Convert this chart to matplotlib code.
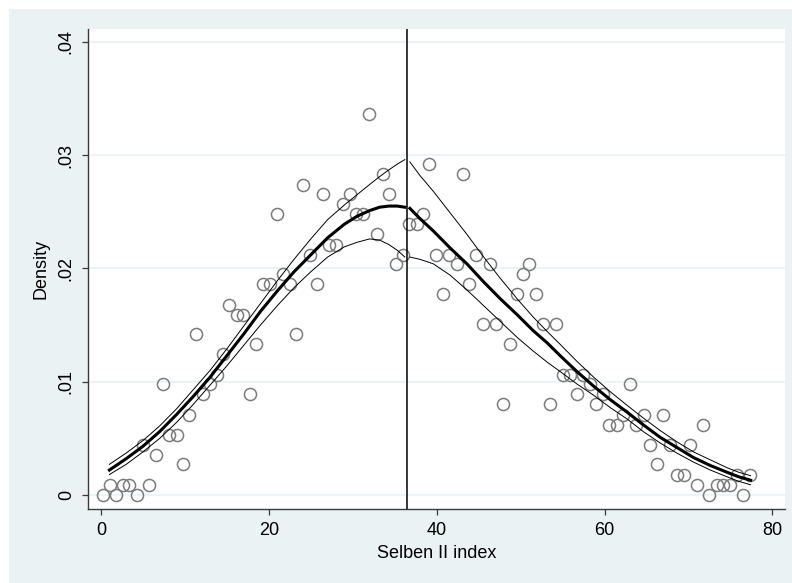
import numpy as np
import matplotlib
matplotlib.use("Agg")
import matplotlib.pyplot as plt
from matplotlib.patches import Rectangle

plt.rcParams['font.family'] = ['Liberation Sans', 'DejaVu Sans']

# ---------------- binned density (circles) ----------------
bin_x = [0.2, 1.07, 1.79, 2.59, 3.37, 4.26, 5.04, 5.72, 6.56, 7.35,
         8.14, 9.02, 9.74, 10.52, 11.32, 12.19, 12.99, 13.79, 14.5, 15.29,
         16.17, 16.96, 17.76, 18.44, 19.27, 20.14, 20.94, 21.73, 22.53, 23.24,
         24.11, 24.91, 25.71, 26.42, 27.21, 28.01, 28.88, 29.68, 30.39, 31.19,
         31.98, 32.86, 33.65, 34.36, 35.16, 36.03,
         36.75, 37.63, 38.41, 39.13, 39.93, 40.73, 41.51, 42.4, 43.11, 43.9,
         44.7, 45.57, 46.36, 47.08, 47.91, 48.75, 49.55, 50.33, 51.05, 51.85,
         52.65, 53.52, 54.23, 55.03, 55.9, 56.7, 57.49, 58.28, 59.0, 59.87,
         60.58, 61.47, 62.25, 63.05, 63.76, 64.64, 65.43, 66.23, 67.02, 67.82,
         68.62, 69.41, 70.2, 71.0, 71.72, 72.5, 73.38, 74.17, 74.97, 75.77,
         76.55, 77.35]
bin_y = [0.0, 0.0009, 0.0, 0.0009, 0.0009, 0.0, 0.0044, 0.0009, 0.0035, 0.0098,
         0.0053, 0.0053, 0.0027, 0.0071, 0.0142, 0.0089, 0.0098, 0.0106, 0.0124, 0.0168,
         0.0159, 0.0159, 0.0089, 0.0133, 0.0186, 0.0186, 0.0248, 0.0195, 0.0186, 0.0142,
         0.0274, 0.0212, 0.0186, 0.0266, 0.0221, 0.0221, 0.0257, 0.0266, 0.0248, 0.0248,
         0.0336, 0.0230, 0.0283, 0.0266, 0.0204, 0.0212,
         0.0239, 0.0239, 0.0248, 0.0292, 0.0212, 0.0177, 0.0212, 0.0204, 0.0283, 0.0186,
         0.0212, 0.0151, 0.0204, 0.0151, 0.0080, 0.0133, 0.0177, 0.0195, 0.0204, 0.0177,
         0.0151, 0.0080, 0.0151, 0.0106, 0.0106, 0.0089, 0.0106, 0.0098, 0.0080, 0.0089,
         0.0062, 0.0062, 0.0071, 0.0098, 0.0062, 0.0071, 0.0044, 0.0027, 0.0071, 0.0044,
         0.0018, 0.0018, 0.0044, 0.0009, 0.0062, 0.0, 0.0009, 0.0009, 0.0009, 0.0018,
         0.0, 0.0018]

cutoff = 36.5

# ---------------- local linear fits with CI ----------------
left_x = [1.0, 3.0, 5.0, 7.0, 9.0, 11.0, 13.0, 15.0, 17.0, 19.0, 21.0,
          23.0, 25.0, 27.0, 29.0, 30.5, 32.0, 33.2, 34.3, 35.3, 36.2]
left_fit = [0.0022, 0.0032, 0.0043, 0.0056, 0.0071, 0.0087, 0.0104, 0.0123, 0.0142,
            0.0162, 0.0180, 0.0197, 0.0212, 0.0227, 0.0239, 0.0246, 0.0251, 0.0254,
            0.0255, 0.0255, 0.0254]
left_hi = [0.0027, 0.0037, 0.0048, 0.0061, 0.0076, 0.0093, 0.0110, 0.0129, 0.0149,
           0.0169, 0.0189, 0.0208, 0.0226, 0.0243, 0.0256, 0.0265, 0.0274, 0.0281,
           0.0287, 0.0292, 0.0296]
left_lo = [0.0018, 0.0027, 0.0038, 0.0050, 0.0064, 0.0080, 0.0097, 0.0114, 0.0132,
           0.0150, 0.0167, 0.0183, 0.0197, 0.0210, 0.0219, 0.0223, 0.0226, 0.0225,
           0.0221, 0.0216, 0.0210]

right_x = [36.8, 38.0, 39.6, 41.6, 43.6, 45.6, 47.6, 49.6, 51.5, 53.2, 54.7, 56.7,
           58.7, 60.7, 62.7, 64.6, 66.6, 68.6, 70.6, 72.6, 74.6, 76.0, 77.4]
right_fit = [0.0253, 0.0244, 0.0233, 0.0218, 0.0204, 0.0188, 0.0173, 0.0159, 0.0145,
             0.0134, 0.0123, 0.0109, 0.0096, 0.0084, 0.0073, 0.0062, 0.0051, 0.0042,
             0.0033, 0.0026, 0.0020, 0.0016, 0.0013]
right_hi = [0.0294, 0.0282, 0.0268, 0.0249, 0.0230, 0.0210, 0.0191, 0.0173, 0.0157,
            0.0144, 0.0133, 0.0118, 0.0104, 0.0091, 0.0079, 0.0068, 0.0057, 0.0047,
            0.0038, 0.0031, 0.0024, 0.0020, 0.0017]
right_lo = [0.0210, 0.0208, 0.0204, 0.0194, 0.0181, 0.0167, 0.0153, 0.0139, 0.0127,
            0.0117, 0.0109, 0.0098, 0.0088, 0.0077, 0.0067, 0.0056, 0.0046, 0.0037,
            0.0029, 0.0022, 0.0016, 0.0012, 0.0009]

xticks = [0, 20, 40, 60, 80]
yticks = [0, 0.01, 0.02, 0.03, 0.04]
ytick_labels = ['0', '.01', '.02', '.03', '.04']

bg = '#eaf2f3'
W, H = 792, 583

fig = plt.figure(figsize=(W / 100, H / 100), dpi=100)
fig.patch.set_facecolor('white')
fig.patches.append(Rectangle((9 / W, 0), 1, 1 - 9 / H, transform=fig.transFigure,
                             facecolor=bg, edgecolor='none', zorder=-10))

ax = fig.add_axes([88 / W, 1 - 509 / H, (785 - 88) / W, (509 - 29) / H])
ax.set_facecolor('white')

ax.plot(bin_x, bin_y, linestyle='none', marker='o', markersize=8.7,
        markerfacecolor='none', markeredgecolor='#7c7c7c', markeredgewidth=1.1, zorder=3)

for xs, f, hi, lo in [(left_x, left_fit, left_hi, left_lo),
                      (right_x, right_fit, right_hi, right_lo)]:
    ax.plot(xs, f, color='black', lw=2.2, zorder=4, solid_joinstyle='round')
    ax.plot(xs, hi, color='black', lw=0.7, zorder=4)
    ax.plot(xs, lo, color='black', lw=0.7, zorder=4)

ax.axvline(cutoff, color='black', lw=1.1, zorder=5)

ax.set_xlim(-1.55, 81.5)
ax.set_ylim(-0.00124, 0.04113)
ax.set_xticks(xticks)
ax.set_yticks(yticks)
ax.set_yticklabels(ytick_labels, rotation=90, va='center')
ax.yaxis.grid(True, color=bg, lw=1.2)
ax.set_axisbelow(True)

for s in ['top', 'right']:
    ax.spines[s].set_visible(False)
for s in ['left', 'bottom']:
    ax.spines[s].set_color('#3a3a3a')
    ax.spines[s].set_linewidth(1.0)
ax.tick_params(direction='out', length=4.5, width=0.9, color='#3a3a3a',
               labelsize=13, pad=5)

ax.set_xlabel('Selben II index', fontsize=13, labelpad=4)
ax.set_ylabel('Density', fontsize=13, labelpad=6)

fig.savefig('out.png', dpi=100)
